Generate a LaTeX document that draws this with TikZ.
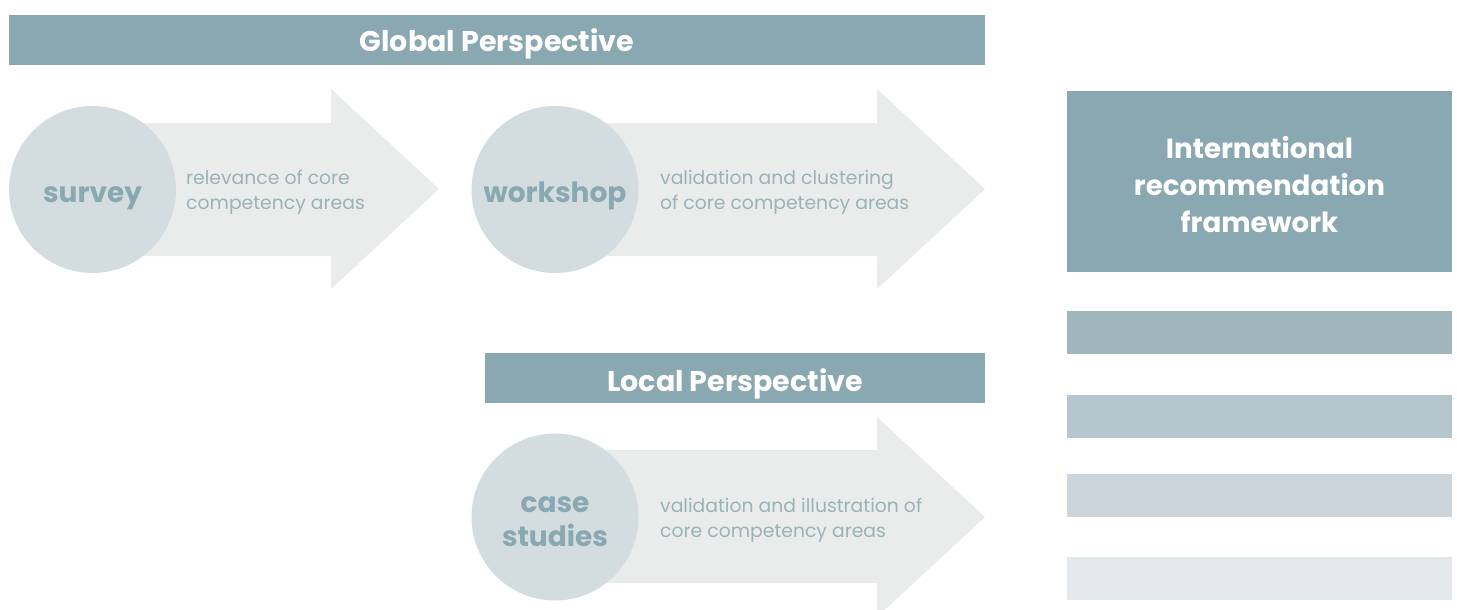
\documentclass[tikz,border=0pt]{standalone}
\usepackage{fontspec}
\setmainfont{Poppins}
\definecolor{bardark}{HTML}{8AA8B1}
\definecolor{stripeA}{HTML}{9EB6BC}
\definecolor{stripeB}{HTML}{B5C6CC}
\definecolor{stripeC}{HTML}{CDD5DC}
\definecolor{stripeD}{HTML}{E3E8EB}
\definecolor{circfill}{HTML}{D3DDE0}
\definecolor{arrowfill}{HTML}{E9ECEB}
\definecolor{desctext}{HTML}{9AB3BA}
\begin{document}
\begin{tikzpicture}[x=1pt,y=-1pt,
  bar/.style={fill=bardark, draw=none, inner sep=0pt, text=white, text height=20pt, text depth=0pt, font=\fontsize{28.5}{34}\selectfont\bfseries},
  stripe/.style={draw=none, inner sep=0pt},
  circ/.style={circle, fill=circfill, draw=none, minimum size=167pt, inner sep=0pt, text=bardark, align=center, text height=15pt, text depth=0pt, font=\fontsize{28}{34}\selectfont\bfseries},
  desc/.style={anchor=west, align=left, text=desctext, inner sep=0pt, font=\fontsize{18.8}{25}\selectfont},
  bigarrow/.style={fill=arrowfill, draw=none}
]
\useasboundingbox (0,0) rectangle (1457,610);
% global bar
\node[bar, minimum width=976pt, minimum height=50pt] (global) at (497,40) {};
\node[bar, fill=none] (globaltext) at (497,42) {Global Perspective};
% arrows
\fill[arrowfill] (92,123) -- (331,123) -- (331,89) -- (439,189) -- (331,289) -- (331,256) -- (92,256) -- cycle;
\fill[arrowfill] (555,123) -- (877,123) -- (877,89) -- (985,189) -- (877,289) -- (877,256) -- (555,256) -- cycle;
\begin{scope}
\clip (0,0) rectangle (1457,610);
\fill[arrowfill] (555,450) -- (877,450) -- (877,417) -- (985,517) -- (877,617) -- (877,583) -- (555,583) -- cycle;
\end{scope}
% circles
\node[circ] (survey) at (92.5,189.5) {};
\node[circ, fill=none, minimum size=0pt] (surveytext) at (92.5,195) {survey};
\node[circ] (workshop) at (555,189.5) {};
\node[circ, fill=none, minimum size=0pt] (workshoptext) at (555,195) {workshop};
\node[circ] (case) at (555,517) {};
\node[text=bardark, align=center, inner sep=0pt, font=\fontsize{28}{34}\selectfont\bfseries] (casetext) at (555,522) {case\\studies};
% descriptions
\node[desc] (d1) at (186,192.5) {relevance of core\\competency areas};
\node[desc] (d2) at (660,192.5) {validation and clustering\\of core competency areas};
\node[desc] (d3) at (660,520) {validation and illustration of\\core competency areas};
% local bar
\node[bar, minimum width=500pt, minimum height=50pt] (local) at (735,378) {};
\node[bar, fill=none] (localtext) at (735,381) {Local Perspective};
% framework box
\node[bar, minimum width=385pt, minimum height=181pt] (frame) at (1259.5,181.5) {};
\node[text=white, align=center, inner sep=0pt, font=\fontsize{27.7}{37}\selectfont\bfseries] (frametext) at (1259.5,184.5) {International\\recommendation\\framework};
% stripes
\node[stripe, fill=stripeA, minimum width=385pt, minimum height=43pt] (s1) at (1259.5,332.5) {};
\node[stripe, fill=stripeB, minimum width=385pt, minimum height=43pt] (s2) at (1259.5,416.5) {};
\node[stripe, fill=stripeC, minimum width=385pt, minimum height=43pt] (s3) at (1259.5,495.5) {};
\node[stripe, fill=stripeD, minimum width=385pt, minimum height=43pt] (s4) at (1259.5,578.5) {};
\end{tikzpicture}
\end{document}
